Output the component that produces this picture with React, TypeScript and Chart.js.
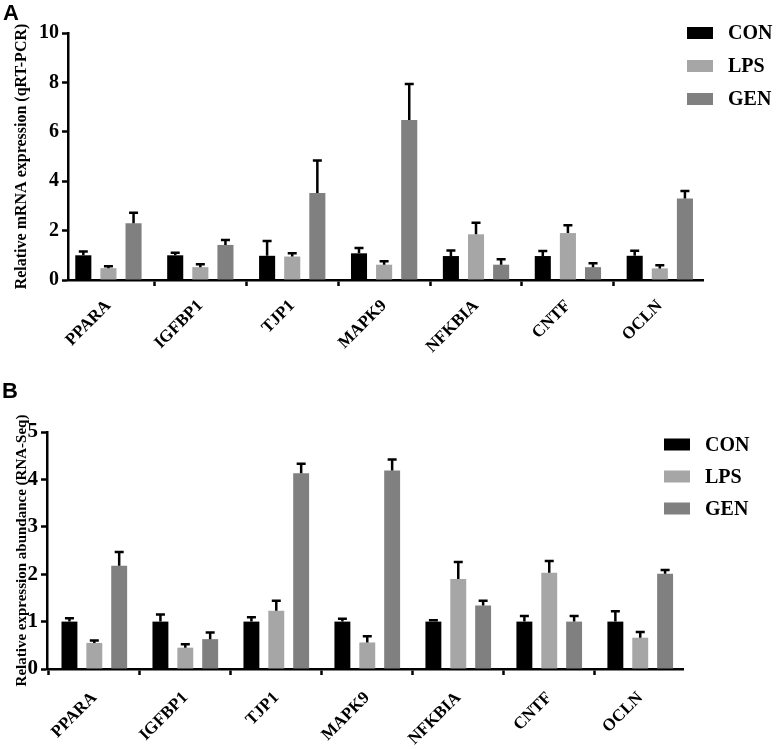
import React, { useEffect, useRef } from "react";
import { Chart, registerables } from "chart.js";
Chart.register(...registerables);

const genes = ["PPARA", "IGFBP1", "TJP1", "MAPK9", "NFKBIA", "CNTF", "OCLN"];
const groups = ["CON", "LPS", "GEN"];
const groupColors = ["#000000", "#a6a6a6", "#808080"];

// Panel A: qRT-PCR
const qpcrCON = [1.0, 1.0, 0.98, 1.08, 0.97, 0.97, 0.98];
const qpcrCONErr = [0.15, 0.1, 0.6, 0.22, 0.22, 0.2, 0.2];
const qpcrLPS = [0.48, 0.52, 0.95, 0.62, 1.85, 1.9, 0.47];
const qpcrLPSErr = [0.08, 0.12, 0.13, 0.14, 0.47, 0.32, 0.13];
const qpcrGEN = [2.3, 1.42, 3.52, 6.48, 0.62, 0.52, 3.3];
const qpcrGENErr = [0.42, 0.2, 1.32, 1.46, 0.22, 0.16, 0.3];
const qpcrYMax = 10;
const qpcrYStep = 2;

// Panel B: RNA-Seq
const seqCON = [1.0, 1.0, 1.0, 1.0, 1.0, 1.0, 1.0];
const seqCONErr = [0.07, 0.15, 0.09, 0.06, 0.03, 0.12, 0.22];
const seqLPS = [0.55, 0.45, 1.23, 0.56, 1.9, 2.03, 0.66];
const seqLPSErr = [0.05, 0.07, 0.21, 0.13, 0.36, 0.25, 0.12];
const seqGEN = [2.18, 0.63, 4.13, 4.19, 1.34, 1.0, 2.01];
const seqGENErr = [0.29, 0.14, 0.2, 0.23, 0.1, 0.12, 0.08];
const seqYMax = 5;
const seqYStep = 1;

const SERIF = "'Liberation Serif', 'Times New Roman', serif";
const SANS = "'Liberation Sans', Arial, sans-serif";

const errorBarPlugin = {
  id: "errorBars",
  afterDatasetsDraw(chart: any) {
    const ctx = chart.ctx;
    const yScale = chart.scales.y;
    chart.data.datasets.forEach((ds: any, di: number) => {
      const meta = chart.getDatasetMeta(di);
      meta.data.forEach((bar: any, i: number) => {
        const v = ds.data[i].y;
        const e = ds.errors[i];
        const yTop = yScale.getPixelForValue(v + e);
        ctx.save();
        ctx.strokeStyle = "#000";
        ctx.lineWidth = 2.5;
        ctx.beginPath();
        ctx.moveTo(bar.x, bar.y);
        ctx.lineTo(bar.x, yTop);
        ctx.moveTo(bar.x - 4.5, yTop);
        ctx.lineTo(bar.x + 4.5, yTop);
        ctx.stroke();
        ctx.restore();
      });
    });
  },
};

const legendPlugin = {
  id: "sideLegend",
  afterDraw(chart: any, _args: any, opts: any) {
    const ctx = chart.ctx;
    ctx.save();
    chart.data.datasets.forEach((ds: any, i: number) => {
      const cy = opts.y + i * opts.gap;
      ctx.fillStyle = ds.backgroundColor;
      ctx.fillRect(opts.x, cy - 6, 26, 12);
      ctx.fillStyle = "#000";
      ctx.font = `bold ${opts.size}px ${SERIF}`;
      ctx.textBaseline = "middle";
      ctx.textAlign = "left";
      ctx.fillText(ds.label, opts.textX, cy + 1);
    });
    ctx.restore();
  },
};

const panelLabelPlugin = {
  id: "panelLabel",
  afterDraw(chart: any, _args: any, opts: any) {
    const ctx = chart.ctx;
    ctx.save();
    ctx.fillStyle = "#000";
    ctx.font = `bold 22px ${SANS}`;
    ctx.textBaseline = "alphabetic";
    ctx.textAlign = "left";
    ctx.fillText(opts.text, opts.x, opts.y);
    ctx.restore();
  },
};

function makeConfig(p: any) {
  const axisFont = (size: number) => ({ family: SERIF, weight: "bold" as const, size });
  return {
    type: "bar" as const,
    data: {
      datasets: groups.map((g, gi) => ({
        label: g,
        data: p.values[gi].map((v: number, i: number) => ({ x: i, y: v })),
        errors: p.errors[gi],
        backgroundColor: groupColors[gi],
        borderWidth: 0,
        barPercentage: 0.64,
        categoryPercentage: 0.82,
      })),
    },
    options: {
      responsive: false,
      animation: false as const,
      layout: { padding: { top: p.padTop, right: p.padRight, left: 0, bottom: 0 } },
      plugins: {
        legend: { display: false },
        tooltip: { enabled: false },
        sideLegend: p.legend,
        panelLabel: p.label,
      },
      scales: {
        x: {
          type: "linear" as const,
          min: p.xMin,
          max: p.xMax,
          offset: false,
          afterFit: (s: any) => {
            s.height = p.xHeight;
          },
          ticks: {
            stepSize: 1,
            includeBounds: false,
            autoSkip: false,
            maxRotation: 45,
            minRotation: 45,
            padding: p.xTickPad,
            color: "#000",
            font: axisFont(17),
            callback: (v: any) => genes[v] ?? "",
          },
          grid: {
            drawOnChartArea: false,
            drawTicks: true,
            tickLength: 6,
            tickWidth: 2.5,
            tickColor: "#000",
          },
          border: { display: true, color: "#000", width: 2.5 },
        },
        y: {
          min: 0,
          max: p.yMax,
          afterFit: (s: any) => {
            s.width = p.yWidth;
          },
          ticks: {
            stepSize: p.yStep,
            padding: 3,
            color: "#000",
            font: axisFont(p.yTickSize),
          },
          grid: {
            drawOnChartArea: false,
            drawTicks: true,
            tickLength: 6,
            tickWidth: 2.5,
            tickColor: "#000",
          },
          border: { display: true, color: "#000", width: 2.5 },
          title: {
            display: true,
            text: p.yTitle,
            color: "#000",
            font: axisFont(p.yTitleSize),
            padding: { top: p.yTitlePad, bottom: 0 },
          },
        },
      },
    },
    plugins: [errorBarPlugin, legendPlugin, panelLabelPlugin],
  };
}

const panelA = {
  values: [qpcrCON, qpcrLPS, qpcrGEN],
  errors: [qpcrCONErr, qpcrLPSErr, qpcrGENErr],
  yMax: qpcrYMax,
  yStep: qpcrYStep,
  yTitle: "Relative mRNA expression (qRT-PCR)",
  yTitleSize: 16,
  yTitlePad: 12,
  yTickSize: 20,
  yWidth: 68,
  xHeight: 95,
  xTickPad: 10,
  xMin: -0.44,
  xMax: 6.47,
  padTop: 33,
  padRight: 78,
  legend: { x: 687, y: 33, gap: 33, textX: 728, size: 20 },
  label: { text: "A", x: 3, y: 20 },
};

const panelB = {
  values: [seqCON, seqLPS, seqGEN],
  errors: [seqCONErr, seqLPSErr, seqGENErr],
  yMax: seqYMax,
  yStep: seqYStep,
  yTitle: "Relative expression abundance (RNA-Seq)",
  yTitleSize: 15,
  yTitlePad: 13,
  yTickSize: 21,
  yWidth: 47,
  xHeight: 80,
  xTickPad: 13,
  xMin: -0.52,
  xMax: 6.47,
  padTop: 57,
  padRight: 98,
  legend: { x: 664, y: 69.5, gap: 32, textX: 705, size: 20 },
  label: { text: "B", x: 2, y: 23 },
};

function Panel({ cfg, top, height }: { cfg: any; top: number; height: number }) {
  const ref = useRef<HTMLCanvasElement | null>(null);
  useEffect(() => {
    if (!ref.current) return;
    const chart = new Chart(ref.current, makeConfig(cfg) as any);
    return () => chart.destroy();
  }, [cfg]);
  return (
    <canvas
      ref={ref}
      width={781}
      height={height}
      style={{ position: "absolute", left: 0, top, width: 781, height }}
    />
  );
}

export default function App() {
  return (
    <div
      style={{
        position: "absolute",
        left: 0,
        top: 0,
        width: 781,
        height: 749,
        background: "#fff",
        overflow: "hidden",
      }}
    >
      <Panel cfg={panelA} top={0} height={375} />
      <Panel cfg={panelB} top={375} height={374} />
    </div>
  );
}
